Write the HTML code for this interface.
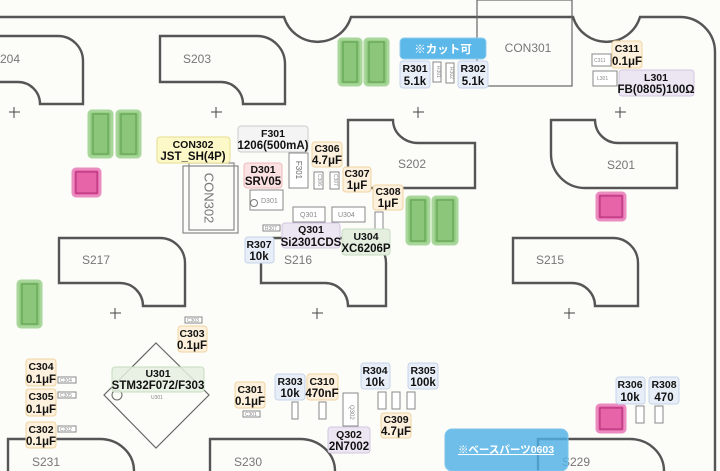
<!DOCTYPE html>
<html><head><meta charset="utf-8"><style>
html,body{margin:0;padding:0;background:#fcfcf8;}
svg{display:block;font-family:"Liberation Sans","Noto Sans CJK JP",sans-serif;}
.o{fill:none;stroke:#555;stroke-width:2.4;}
.sl{font-size:12px;fill:#777;}
.sm{fill:#fff;stroke:#888;stroke-width:1;}
.t{font-size:5px;fill:#888;}
.g{fill:#8cc67a;stroke:#a9d79b;stroke-width:3;}
.gi{fill:#8cc67a;stroke:#5a9e4a;stroke-width:1;}
.p{fill:#e0509c;stroke:#ea8cc0;stroke-width:3;}
.pi{fill:#e864a8;stroke:#b03078;stroke-width:1;}
.b1{font-size:10.5px;font-weight:bold;fill:#111;text-anchor:middle;}
.b2{font-size:11.5px;font-weight:bold;fill:#111;text-anchor:middle;}
.cr{stroke:#444;stroke-width:1;}
</style></head><body>
<svg width="720" height="471" viewBox="0 0 720 471" xmlns="http://www.w3.org/2000/svg">
<rect width="720" height="471" fill="#fcfcf8"/>
<path class="o" d="M0,17 H284 A35 35 0 0 0 351,17 H573 A35 35 0 0 0 640,17 H680 A35 35 0 0 1 715,52 V471"/>
<rect x="477" y="0" width="95" height="86" fill="none" stroke="#666" stroke-width="1.2"/>
<text x="528" y="52" class="sl" text-anchor="middle">CON301</text>
<path class="o" d="M-5,36 H58 A25 25 0 0 1 83,61 V104 H40 A22 22 0 0 0 18,82 H-5"/>
<text x="-8" y="63" class="sl">S204</text>
<path class="o" d="M160,36 H257 A28 28 0 0 1 285,64 V104 H243 A22 22 0 0 0 221,82 H160 Z"/>
<text x="183" y="63" class="sl">S203</text>
<path class="o" d="M348,120 H393 A25 23 0 0 0 418,143 H475 V188 H348 Z"/>
<text x="398" y="168" class="sl">S202</text>
<path class="o" d="M551,120 H595 A23 23 0 0 0 618,143 H677 V188 H585 A34 34 0 0 1 551,154 Z"/>
<text x="607" y="169" class="sl">S201</text>
<path class="o" d="M59,238 H160 A25 25 0 0 1 185,263 V306 H143 A23 23 0 0 0 120,283 H59 Z"/>
<text x="82" y="264" class="sl">S217</text>
<path class="o" d="M261,238 H361 A25 25 0 0 1 386,263 V306 H348 A23 23 0 0 0 325,283 H261 Z"/>
<text x="284" y="264" class="sl">S216</text>
<path class="o" d="M513,238 H613 A25 25 0 0 1 638,263 V306 H595 A23 23 0 0 0 572,283 H513 Z"/>
<text x="536" y="264" class="sl">S215</text>
<path class="o" d="M8,472 V439 H100 A34 32 0 0 1 134,471"/>
<text x="32" y="466" class="sl">S231</text>
<path class="o" d="M210,472 V439 H300 A35 32 0 0 1 335,471"/>
<text x="234" y="466" class="sl">S230</text>
<path class="o" d="M538,472 V439 H630 A34 32 0 0 1 664,471"/>
<text x="562" y="466" class="sl">S229</text>
<g class="cr">
<path d="M9,112h11M14,107v11"/><path d="M211,112h11M216,107v11"/><path d="M413,112h11M418,107v11"/><path d="M615,112h11M620,107v11"/>
<path d="M110,313h11M115,308v11"/><path d="M312,313h11M317,308v11"/><path d="M564,313h11M569,308v11"/>
</g>
<g>
<rect class="g" x="339" y="39" width="22" height="46" rx="3"/><rect class="gi" x="343" y="42" width="14" height="40"/>
<rect class="g" x="365" y="39" width="23" height="46" rx="3"/><rect class="gi" x="369" y="42" width="15" height="40"/>
<rect class="g" x="89" y="111" width="23" height="46" rx="3"/><rect class="gi" x="93" y="114" width="15" height="40"/>
<rect class="g" x="117" y="111" width="23" height="46" rx="3"/><rect class="gi" x="121" y="114" width="15" height="40"/>
<rect class="g" x="407" y="197" width="22" height="47" rx="3"/><rect class="gi" x="411" y="200" width="14" height="41"/>
<rect class="g" x="433" y="197" width="24" height="47" rx="3"/><rect class="gi" x="437" y="200" width="16" height="41"/>
<rect class="g" x="18" y="281" width="23" height="46" rx="3"/><rect class="gi" x="22" y="284" width="15" height="40"/>
</g>
<rect class="p" x="73" y="169" width="27" height="27" rx="3"/><rect class="pi" x="76" y="172" width="21" height="21"/>
<rect class="p" x="597" y="193" width="28" height="27" rx="3"/><rect class="pi" x="600" y="196" width="22" height="21"/>
<rect class="p" x="597" y="405" width="28" height="27" rx="3"/><rect class="pi" x="600" y="408" width="22" height="21"/>
<g>
<rect class="sm" x="433" y="62" width="8" height="20"/><rect class="sm" x="446" y="63" width="8" height="20"/>
<text class="t" x="437" y="66" transform="rotate(90 437 66)">R301</text><text class="t" x="450" y="67" transform="rotate(90 450 67)">R302</text>
<rect class="sm" x="592" y="54" width="19" height="12"/><text class="t" x="594" y="62">C311</text>
<rect class="sm" x="593" y="71" width="24" height="15"/><text class="t" x="597" y="80">L301</text>
<rect class="sm" x="289" y="153" width="19" height="35"/><text x="298" y="170" font-size="8" fill="#666" text-anchor="middle" dominant-baseline="middle" transform="rotate(90 298 170)">F301</text>
<rect class="sm" x="314" y="172" width="9" height="17"/><rect class="sm" x="330" y="172" width="9" height="17"/>
<text class="t" x="318" y="174" transform="rotate(90 318 174)">C306</text><text class="t" x="334" y="174" transform="rotate(90 334 174)">C307</text>
<rect class="sm" x="250" y="190" width="33" height="20"/><circle cx="254" cy="203" r="3.5" fill="none" stroke="#777"/><text x="261" y="203" font-size="7" fill="#888">D301</text>
<rect class="sm" x="293" y="207" width="32" height="15"/><text x="300" y="217" font-size="7" fill="#888">Q301</text>
<rect class="sm" x="332" y="207" width="33" height="15"/><text x="338" y="217" font-size="7" fill="#888">U304</text>
<rect class="sm" x="263" y="225" width="17" height="6"/><text class="t" x="265" y="230">R307</text>
<rect class="sm" x="375" y="212" width="8" height="17"/>
<rect x="183" y="166" width="55" height="67" fill="none" stroke="#888" stroke-width="1.2"/>
<rect x="189" y="163" width="45" height="67" fill="none" stroke="#888" stroke-width="1.2"/>
<text x="208" y="198" font-size="13" fill="#777" text-anchor="middle" dominant-baseline="middle" transform="rotate(90 208 198)">CON302</text>
<rect class="sm" x="185" y="317" width="17" height="6"/><text class="t" x="187" y="322">C303</text>
<rect class="sm" x="58" y="377" width="18" height="6"/><text class="t" x="60" y="382">C304</text>
<rect class="sm" x="58" y="392" width="18" height="6"/><text class="t" x="60" y="397">C305</text>
<rect class="sm" x="58" y="426" width="18" height="6"/><text class="t" x="60" y="431">C302</text>
<path d="M156,343 L209,395 L156,448 L104,395 Z" fill="none" stroke="#666" stroke-width="1.2"/>
<circle cx="117" cy="395" r="5" fill="none" stroke="#666"/>
<rect class="sm" x="243" y="411" width="17" height="6"/><text class="t" x="245" y="416">C301</text>
<rect class="sm" x="292" y="402" width="6" height="17"/><rect class="sm" x="319" y="402" width="7" height="17"/>
<rect class="sm" x="343" y="393" width="15" height="33"/><text x="350" y="405" font-size="6" fill="#888" transform="rotate(90 350 405)">Q302</text>
<rect class="sm" x="378" y="392" width="8" height="17"/><rect class="sm" x="392" y="392" width="8" height="17"/><rect class="sm" x="407" y="392" width="8" height="17"/>
<rect class="sm" x="636" y="406" width="8" height="17"/><rect class="sm" x="655" y="406" width="8" height="17"/>
</g>
<g stroke-width="1">
<rect x="400" y="38" width="86" height="21" rx="4" fill="#5cb8e8" stroke="#8fcdf0"/>
<text x="443" y="53" font-size="11.5" font-weight="bold" fill="#fff" text-anchor="middle">※カット可</text>
<rect x="400" y="61" width="30" height="27" rx="3" fill="#e8eef8" stroke="#c5d3ea"/><text class="b1" x="415" y="72">R301</text><text class="b2" x="415" y="85">5.1k</text>
<rect x="458" y="61" width="30" height="27" rx="3" fill="#e8eef8" stroke="#c5d3ea"/><text class="b1" x="473" y="72">R302</text><text class="b2" x="473" y="85">5.1k</text>
<rect x="612" y="41" width="30" height="27" rx="3" fill="#fdf0dc" stroke="#f0d3a0"/><text class="b1" x="627" y="52">C311</text><text class="b2" x="627" y="65">0.1μF</text>
<rect x="619" y="70" width="75" height="26" rx="3" fill="#ece6f3" stroke="#d2c6e2"/><text class="b1" x="656" y="81">L301</text><text class="b2" x="656" y="93">FB(0805)100Ω</text>
<rect x="157" y="137" width="73" height="26" rx="3" fill="#fdf8c8" stroke="#e6de8e"/><text class="b1" x="193" y="148">CON302</text><text class="b2" x="193" y="160">JST_SH(4P)</text>
<rect x="238" y="126" width="70" height="26" rx="3" fill="#f4f4f4" stroke="#ccc"/><text class="b1" x="273" y="137">F301</text><text class="b2" x="273" y="149">1206(500mA)</text>
<rect x="312" y="142" width="30" height="25" rx="3" fill="#fdf0dc" stroke="#f0d3a0"/><text class="b1" x="327" y="152">C306</text><text class="b2" x="327" y="164">4.7μF</text>
<rect x="244" y="163" width="38" height="25" rx="3" fill="#fbe1e1" stroke="#eebcbc"/><text class="b1" x="263" y="173">D301</text><text class="b2" x="263" y="185">SRV05</text>
<rect x="343" y="167" width="28" height="25" rx="3" fill="#fdf0dc" stroke="#f0d3a0"/><text class="b1" x="357" y="177">C307</text><text class="b2" x="357" y="189">1μF</text>
<rect x="373" y="185" width="30" height="25" rx="3" fill="#fdf0dc" stroke="#f0d3a0"/><text class="b1" x="388" y="195">C308</text><text class="b2" x="388" y="207">1μF</text>
<rect x="282" y="223" width="58" height="25" rx="3" fill="#ece6f3" stroke="#d2c6e2"/><text class="b1" x="311" y="233">Q301</text><text class="b2" x="311" y="246">Si2301CDS</text>
<rect x="342" y="229" width="48" height="26" rx="3" fill="#e4efe0" stroke="#c6dcbf"/><text class="b1" x="366" y="240">U304</text><text class="b2" x="366" y="252">XC6206P</text>
<rect x="245" y="237" width="29" height="26" rx="3" fill="#e8eef8" stroke="#c5d3ea"/><text class="b1" x="259" y="248">R307</text><text class="b2" x="259" y="260">10k</text>
<rect x="178" y="326" width="29" height="26" rx="3" fill="#fdf0dc" stroke="#f0d3a0"/><text class="b1" x="192" y="337">C303</text><text class="b2" x="192" y="349">0.1μF</text>
<rect x="112" y="367" width="92" height="25" rx="3" fill="#e4efe0" stroke="#c6dcbf" fill-opacity="0.85"/><text class="b1" x="158" y="377">U301</text><text class="b2" x="158" y="389">STM32F072/F303</text>
<text x="151" y="399" class="t">U301</text>
<rect x="26" y="359" width="30" height="27" rx="3" fill="#fdf0dc" stroke="#f0d3a0"/><text class="b1" x="41" y="370">C304</text><text class="b2" x="41" y="383">0.1μF</text>
<rect x="26" y="389" width="30" height="27" rx="3" fill="#fdf0dc" stroke="#f0d3a0"/><text class="b1" x="41" y="400">C305</text><text class="b2" x="41" y="413">0.1μF</text>
<rect x="26" y="422" width="30" height="26" rx="3" fill="#fdf0dc" stroke="#f0d3a0"/><text class="b1" x="41" y="433">C302</text><text class="b2" x="41" y="445">0.1μF</text>
<rect x="235" y="382" width="30" height="26" rx="3" fill="#fdf0dc" stroke="#f0d3a0"/><text class="b1" x="250" y="393">C301</text><text class="b2" x="250" y="405">0.1μF</text>
<rect x="275" y="374" width="30" height="26" rx="3" fill="#e8eef8" stroke="#c5d3ea"/><text class="b1" x="290" y="385">R303</text><text class="b2" x="290" y="397">10k</text>
<rect x="307" y="374" width="31" height="26" rx="3" fill="#fdf0dc" stroke="#f0d3a0"/><text class="b1" x="322" y="385">C310</text><text class="b2" x="322" y="397">470nF</text>
<rect x="361" y="363" width="29" height="26" rx="3" fill="#e8eef8" stroke="#c5d3ea"/><text class="b1" x="375" y="374">R304</text><text class="b2" x="375" y="386">10k</text>
<rect x="408" y="363" width="30" height="26" rx="3" fill="#e8eef8" stroke="#c5d3ea"/><text class="b1" x="423" y="374">R305</text><text class="b2" x="423" y="386">100k</text>
<rect x="381" y="413" width="30" height="25" rx="3" fill="#fdf0dc" stroke="#f0d3a0"/><text class="b1" x="396" y="423">C309</text><text class="b2" x="396" y="435">4.7μF</text>
<rect x="328" y="427" width="42" height="26" rx="3" fill="#ece6f3" stroke="#d2c6e2"/><text class="b1" x="349" y="438">Q302</text><text class="b2" x="349" y="450">2N7002</text>
<rect x="616" y="377" width="29" height="27" rx="3" fill="#e8eef8" stroke="#c5d3ea"/><text class="b1" x="630" y="388">R306</text><text class="b2" x="630" y="401">10k</text>
<rect x="649" y="377" width="30" height="27" rx="3" fill="#e8eef8" stroke="#c5d3ea"/><text class="b1" x="664" y="388">R308</text><text class="b2" x="664" y="401">470</text>
<rect x="445" y="429" width="123" height="42" rx="7" fill="#4fb0e5" fill-opacity="0.82" stroke="#7cc4ec"/>
<text x="506" y="453" font-size="10.5" font-weight="bold" fill="#fff" text-anchor="middle" text-decoration="underline">※ベースパーツ0603</text>
</g>
</svg>
</body></html>
